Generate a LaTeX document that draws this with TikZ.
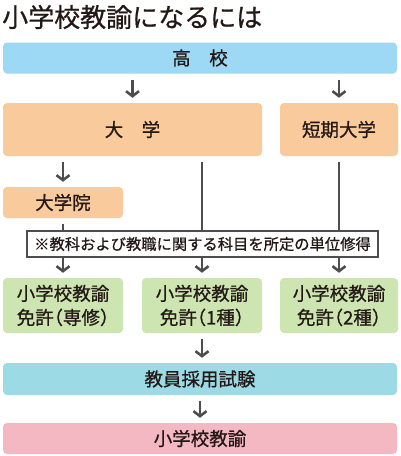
\documentclass[tikz,border=0pt]{standalone}
\usepackage{fontspec}
\setmainfont{Noto Sans CJK JP}[FakeBold=0.8]
\newfontfamily\haltfont[RawFeature=+halt, FakeBold=0.8]{Noto Sans CJK JP}
\usetikzlibrary{arrows.meta}
\definecolor{ink}{HTML}{231815}
\definecolor{arrgray}{HTML}{4D4D4D}
\definecolor{koukoublue}{HTML}{9DD8F4}
\definecolor{daigakuorange}{HTML}{F8CA9C}
\definecolor{menkyogreen}{HTML}{CDE5B1}
\definecolor{saiyoucyan}{HTML}{9CDAE5}
\definecolor{kyouyupink}{HTML}{F4B8C3}
\tikzset{>={Straight Barb[length=5pt,width=13pt]},
  box/.style={rounded corners=4pt, minimum height=31pt, inner sep=0pt, align=center, text=ink, font=\fontsize{18.5}{24}\selectfont},
  arr/.style={->, line width=2.6pt, draw=arrgray, shorten <=6pt, shorten >=5pt}}

\begin{document}
\begin{tikzpicture}[x=1pt, y=-1pt]
  \useasboundingbox (0,0) rectangle (400,456);
  \node[anchor=west, inner sep=0pt, text=ink, font=\fontsize{26}{30}\selectfont] (title) at (2,17) {小学校教諭になるには};
  \node[box, fill=koukoublue, minimum width=394pt] (koukou) at (200,58) {高　校};
  \node[box, fill=daigakuorange, minimum width=259pt, minimum height=53pt] (daigaku) at (132.5,129.5) {大　学};
  \node[box, fill=daigakuorange, minimum width=118pt, minimum height=53pt] (tanki) at (339,129.5) {短期大学};
  \node[box, fill=daigakuorange, minimum width=120pt] (inn) at (63,202.5) {大学院};
  \node[box, fill=menkyogreen, minimum width=120pt, minimum height=55pt, font=\haltfont\fontsize{18.5}{24}\selectfont] (sen) at (63,305.5) {小学校教諭\\免許（専修）};
  \node[box, fill=menkyogreen, minimum width=120pt, minimum height=55pt, font=\haltfont\fontsize{18.5}{24}\selectfont] (ichi) at (202,305.5) {小学校教諭\\免許（1種）};
  \node[box, fill=menkyogreen, minimum width=118pt, minimum height=55pt, font=\haltfont\fontsize{18.5}{24}\selectfont] (ni) at (339,305.5) {小学校教諭\\免許（2種）};
  \node[box, fill=saiyoucyan, minimum width=394pt, minimum height=32pt] (saiyou) at (200,379) {教員採用試験};
  \node[box, fill=kyouyupink, minimum width=394pt] (kyouyu) at (200,438.5) {小学校教諭};
  \draw[arr] (koukou.south -| daigaku.north) -- (daigaku.north);
  \draw[arr] (koukou.south -| tanki.north) -- (tanki.north);
  \draw[arr] (daigaku.south -| inn.north) -- (inn.north);
  \draw[arr] (inn) -- (sen);
  \draw[arr] (daigaku.south -| ichi.north) -- (ichi.north);
  \draw[arr] (tanki) -- (ni);
  \draw[arr] (ichi.south) -- (ichi.south |- saiyou.north);
  \draw[arr] (saiyou) -- (kyouyu);
  \node[draw=arrgray, fill=white, line width=1.3pt, minimum width=351pt, minimum height=26pt, inner sep=0pt, text=ink, font=\fontsize{15.3}{18}\selectfont] (note) at (202.5,244) {※教科および教職に関する科目を所定の単位修得};
\end{tikzpicture}
\end{document}
